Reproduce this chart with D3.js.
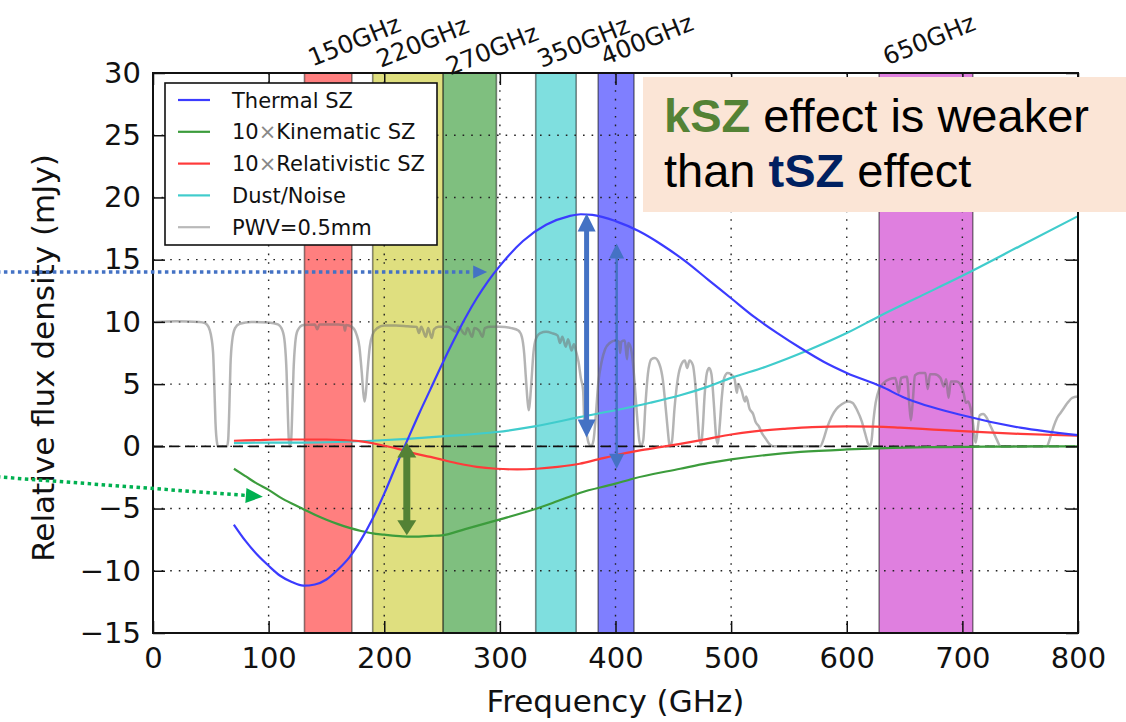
<!DOCTYPE html>
<html><head><meta charset="utf-8">
<script src="https://cdn.jsdelivr.net/npm/d3@7"></script>
<style>body{margin:0;background:#fff}</style>
</head><body><svg id="c" width="1126" height="722"></svg>
<script>
// ---------------- DATA ----------------
const xTicks = [0,100,200,300,400,500,600,700,800];
const yTicks = [-15,-10,-5,0,5,10,15,20,25,30];

const bandNames  = ["150GHz","220GHz","270GHz","350GHz","400GHz","650GHz"];
const bandLo     = [131,190,251,331,385,628];
const bandHi     = [172,251,297,366,416,709];
const bandLabelFreq = [138,197,257,336,391,635];
const bandLabelVal  = [30.5,30.4,29.8,30.4,30.6,30.6];

const seriesNames = ["Thermal SZ","10×Kinematic SZ","10×Relativistic SZ","Dust/Noise","PWV=0.5mm"];

const tszFreq = [70,80,90,100,110,120,130,140,150,160,170,180,190,200,210,220,230,240,250,260,270,280,290,300,320,340,360,370,380,400,420,440,460,480,500,520,540,560,580,600,630,650,700,750,800];
const tszVal  = [-6.3,-7.6,-8.7,-9.6,-10.4,-10.9,-11.2,-11.1,-10.7,-9.9,-8.9,-7.5,-5.8,-3.8,-1.6,0.5,2.6,4.6,6.6,8.5,10.3,11.9,13.3,14.5,16.5,17.8,18.5,18.65,18.6,18.1,17.3,16.2,14.9,13.4,11.9,10.4,9.1,7.9,6.8,5.9,4.8,3.9,2.5,1.5,0.9];

const kszFreq = [70,80,90,100,110,120,130,140,150,160,170,180,190,200,210,220,230,240,250,270,297,332,350,369,400,415,456,480,500,530,560,600,640,680,720,760,800];
const kszVal  = [-1.8,-2.4,-3.0,-3.5,-4.1,-4.6,-5.05,-5.5,-5.9,-6.25,-6.55,-6.8,-7.0,-7.1,-7.2,-7.25,-7.25,-7.2,-7.15,-6.65,-5.95,-5.0,-4.4,-3.75,-3.0,-2.6,-1.8,-1.35,-1.05,-0.7,-0.45,-0.25,-0.12,-0.06,-0.03,-0.01,0];

const rszFreq = [70,90,110,130,150,165,180,190,200,212,225,240,251,265,280,297,315,332,350,369,385,401,420,440,456,480,500,520,545,570,600,625,646,675,704,750,800];
const rszVal  = [0.45,0.5,0.55,0.55,0.55,0.5,0.4,0.25,0.05,-0.2,-0.55,-0.85,-1.1,-1.4,-1.65,-1.8,-1.85,-1.8,-1.65,-1.4,-1.05,-0.7,-0.35,-0.05,0.2,0.6,0.95,1.2,1.4,1.55,1.6,1.58,1.5,1.35,1.2,1.0,0.85];

const dustFreq = [70,100,130,160,190,220,250,297,330,369,400,430,456,480,500,530,566,600,629,660,700,750,800];
const dustVal  = [0.25,0.3,0.3,0.35,0.45,0.6,0.8,1.15,1.6,2.35,2.9,3.5,4.1,4.8,5.5,6.4,7.7,9.1,10.5,11.9,13.7,16.1,18.5];

const pwvFreq = [2,20,40,45,48,50,52,53,54,55.5,56,64,65,66,67,68.5,71,75,85,100,108,112,114,115.5,116.5,117.5,118.5,119.5,120.5,121.5,123,125,130,140,142,144,160,165,166,167,172,176,178.5,180.5,182,183,184,185.5,187.5,190,194,200,210,220,228,230,232,236,238,241,243,247,255,262,264,270,272,276,278,282,285,287,292,300,310,316,319,321,322.5,324,325,326,327.5,329,331,335,340,345,350,352,354,357,359,362,364,366,368,370,372,373,375,377,379,381,383,385,388,391,395,400,403,404,405,408,410,411,413,415,417,419,420.5,422,424,426,428,431,434,438,441,443,445,446.5,447.5,449,451,454,457,460,462,464,467,469,471,472.5,474,475.5,477,479,481,483,485,487,488.5,490,492,494,497,500,503,505,506,509,512,513,516,519,521,524,527,530,533,536,577,580,583,587,591,596,601,605,609,613,616,618.5,620,621.5,623,625,628,632,637,642,645,647,652,654,655.5,657,659,663,668,670,672,676,681,684,686,688,690,695,698,701,703,705,707,709,710.5,711.5,713,715,718,721,724,727,730,733,773,776,779,782,785,788,791,795,800];
const pwvVal  = [10.0,10.05,10.0,9.9,9.6,9.0,7.5,5,2,0.2,0,0,0.5,3,6.5,8.5,9.5,9.85,10.0,9.95,9.8,9.3,8.3,6,3,0.5,0,0.5,3,6,8.3,9.3,9.75,9.8,9.4,9.8,9.8,9.75,9.3,9.75,9.6,9.0,8.0,6.0,4.2,3.6,4.2,6.0,8.0,9.0,9.5,9.7,9.7,9.65,9.6,9.1,9.6,8.8,9.5,8.7,9.4,9.6,9.6,9.2,9.6,9.0,9.5,8.8,9.5,9.3,8.8,9.5,9.6,9.6,9.5,9.3,8.8,7.5,5.5,3.6,2.9,3.6,5.5,7.5,8.6,9.1,9.2,9.1,8.9,8.3,8.8,8.0,8.6,7.7,8.2,7.6,6.8,5.5,4.5,2.0,1.0,0.2,0,0.5,2.5,5.0,6.8,7.8,8.3,8.5,8.4,7.5,8.4,8.5,7.0,8.3,8.0,6.8,4.5,2.0,0.5,0,0.5,3.5,5.8,7.0,7.1,6.6,5.3,3.5,1.5,0.2,0,0.5,3,5.5,6.6,6.9,6.3,6.9,6.5,5.0,2.5,0.6,0.2,1.5,4,5.9,6.3,5.8,3.5,0.8,0.2,1.5,4.0,5.5,5.9,5.8,5.4,4.3,5.0,4.5,3.6,4.0,3.0,2.6,2.0,1.6,1.0,0.6,0.2,0,0,0.6,1.5,2.4,3.0,3.4,3.6,3.5,2.9,2.0,1.0,0.2,0,0.5,2.0,3.5,4.6,5.1,5.4,5.5,4.3,5.5,5.6,3.5,2.1,3.5,5.7,5.9,5.9,4.6,5.8,5.8,5.5,4.8,5.4,3.9,5.2,5.2,5.0,4.3,3.5,3.6,3.1,2.0,0.8,0.3,1.2,2.5,2.6,2.3,1.7,1.1,0.5,0,0,0.7,1.6,2.3,2.7,3.1,3.5,3.9,4.0];

// annotation arrows in data units
const arrowTszFreq = 375, arrowTszTop = 18.7, arrowTszBottom = 0.7;
const arrowThinFreq = 401, arrowThinTop = 16.3, arrowThinBottom = -1.8;
const arrowKszFreq = 219.5, arrowKszTop = 0.3, arrowKszBottom = -7.15;
const pointerTsz = {fromF:-135, fromV:14.0, toF:289, toV:14.0};
const pointerKsz = {fromF:-135, fromV:-2.45, toF:95, toV:-4.05};

// ---------------- CHART ----------------
const svg = d3.select("#c");
const L=153, R=1078, T=73, B=633;
const x = d3.scaleLinear().domain([0,800]).range([L,R]);
const y = d3.scaleLinear().domain([-15,30]).range([B,T]);
const FONT = "'DejaVu Sans', Verdana, sans-serif";

svg.append("rect").attr("width",1126).attr("height",722).attr("fill","#fff");
svg.append("defs").append("clipPath").attr("id","clip")
  .append("rect").attr("x",L).attr("y",T).attr("width",R-L).attr("height",B-T);

const bandColors = ["#ff7f7f","#dfdf7f","#7fbf7f","#7fdfdf","#7f7fff","#df7fdf"];
const gBands = svg.append("g");
bandNames.forEach((n,i)=>{
  gBands.append("rect")
    .attr("x",x(bandLo[i])).attr("y",T)
    .attr("width",x(bandHi[i])-x(bandLo[i])).attr("height",B-T)
    .attr("fill",bandColors[i])
    .attr("stroke","rgba(0,0,0,0.45)").attr("stroke-width",1.6);
});

// grid
const gGrid = svg.append("g").attr("stroke","#222").attr("stroke-width",1.4)
  .attr("stroke-dasharray","1.6,7");
xTicks.forEach(t=>gGrid.append("line").attr("x1",x(t)).attr("x2",x(t)).attr("y1",T).attr("y2",B));
yTicks.forEach(t=>gGrid.append("line").attr("y1",y(t)).attr("y2",y(t)).attr("x1",L).attr("x2",R));

const plot = svg.append("g").attr("clip-path","url(#clip)");
const line = d3.line().curve(d3.curveMonotoneX).x(d=>x(d[0])).y(d=>y(d[1]));
const zip = (a,b)=>a.map((v,i)=>[v,b[i]]);

// PWV
plot.append("path").attr("d",line(zip(pwvFreq,pwvVal)))
  .attr("fill","none").attr("stroke","#707070").attr("stroke-opacity",0.52).attr("stroke-width",2.5);

// zero line
plot.append("line").attr("x1",x(0)).attr("x2",x(800)).attr("y1",y(0)).attr("y2",y(0))
  .attr("stroke","#111").attr("stroke-width",1.8).attr("stroke-dasharray","10,6");

const colors = ["#3b3bff","#3c9c3c","#ff3a3a","#40cccc","#b9b9b9"];
const seriesData = [zip(tszFreq,tszVal), zip(kszFreq,kszVal), zip(rszFreq,rszVal), zip(dustFreq,dustVal)];
[3,2,1,0].forEach(i=>{
  plot.append("path").attr("d",line(seriesData[i]))
    .attr("fill","none").attr("stroke",colors[i]).attr("stroke-width",2.2);
});

// axes
const tickLen = 12;
svg.append("g").attr("transform",`translate(0,${B})`)
  .call(d3.axisBottom(x).tickValues(xTicks).tickSize(-tickLen).tickPadding(14))
  .call(g=>{g.select(".domain").remove(); g.selectAll("text").attr("font-size",29).attr("font-family",FONT).attr("fill","#111");});
svg.append("g").attr("transform",`translate(0,${T})`)
  .call(d3.axisTop(x).tickValues(xTicks).tickSize(-tickLen).tickFormat(""))
  .call(g=>g.select(".domain").remove());
svg.append("g").attr("transform",`translate(${L},0)`)
  .call(d3.axisLeft(y).tickValues(yTicks).tickSize(-tickLen).tickPadding(12))
  .call(g=>{g.select(".domain").remove(); g.selectAll("text").attr("font-size",29).attr("font-family",FONT).attr("fill","#111");});
svg.append("g").attr("transform",`translate(${R},0)`)
  .call(d3.axisRight(y).tickValues(yTicks).tickSize(-tickLen).tickFormat(""))
  .call(g=>g.select(".domain").remove());
svg.selectAll(".tick line").attr("stroke","#111").attr("stroke-width",1.5);
svg.append("rect").attr("x",L).attr("y",T).attr("width",R-L).attr("height",B-T)
  .attr("fill","none").attr("stroke","#111").attr("stroke-width",2);

// axis labels
svg.append("text").attr("x",(L+R)/2).attr("y",712).attr("text-anchor","middle")
  .attr("font-family",FONT).attr("font-size",31).attr("fill","#111").text("Frequency (GHz)");
svg.append("text").attr("transform",`translate(54,358) rotate(-90)`).attr("text-anchor","middle")
  .attr("font-family",FONT).attr("font-size",31).attr("fill","#111").text("Relative flux density (mJy)");

// band labels
bandNames.forEach((n,i)=>{
  svg.append("text")
    .attr("transform",`translate(${x(bandLabelFreq[i])},${y(bandLabelVal[i])}) rotate(-22)`)
    .attr("font-family",FONT).attr("font-size",24.5).attr("fill","#111").text(n);
});

// legend
const lg = svg.append("g");
lg.append("rect").attr("x",165).attr("y",83).attr("width",272).attr("height",162)
  .attr("fill","#fff").attr("stroke","#111").attr("stroke-width",1.6);
seriesNames.forEach((n,i)=>{
  const yy = 100 + i*31.8;
  lg.append("line").attr("x1",178).attr("x2",210).attr("y1",yy).attr("y2",yy)
    .attr("stroke",colors[i]).attr("stroke-width",2.2);
  const t = lg.append("text").attr("x",232).attr("y",yy+7.5)
    .attr("font-family",FONT).attr("font-size",21).attr("fill","#111");
  const parts = n.split("×");
  if(parts.length>1){
    t.append("tspan").text(parts[0]);
    t.append("tspan").attr("fill","#888").text("×");
    t.append("tspan").text(parts[1]);
  } else t.text(n);
});

// annotation box
svg.append("rect").attr("x",643).attr("y",77).attr("width",483).attr("height",135).attr("fill","#fbe5d6");
const AF = "'Liberation Sans', Arial, sans-serif";
const t1 = svg.append("text").attr("x",664).attr("y",132).attr("font-family",AF).attr("font-size",47).attr("fill","#000");
t1.append("tspan").attr("font-weight","bold").attr("fill","#548235").text("kSZ");
t1.append("tspan").text(" effect is weaker");
const t2 = svg.append("text").attr("x",664).attr("y",187).attr("font-family",AF).attr("font-size",47).attr("fill","#000");
t2.append("tspan").text("than ");
t2.append("tspan").attr("font-weight","bold").attr("fill","#002060").text("tSZ");
t2.append("tspan").text(" effect");

// arrows
function head(g,tx,ty,fx,fy,len,hw,color){
  const dx=tx-fx, dy=ty-fy, d=Math.hypot(dx,dy), ux=dx/d, uy=dy/d, nx=-uy, ny=ux;
  const bx=tx-ux*len, by=ty-uy*len;
  g.append("path").attr("d",`M${tx},${ty}L${bx+nx*hw},${by+ny*hw}L${bx-nx*hw},${by-ny*hw}Z`).attr("fill",color);
  return [bx,by];
}
function dblArrow(f,top,bot,color,w,len,hw){
  const g = svg.append("g");
  const X=x(f), Y1=y(top), Y2=y(bot);
  g.append("line").attr("x1",X).attr("x2",X).attr("y1",Y1+len-1).attr("y2",Y2-len+1)
    .attr("stroke",color).attr("stroke-width",w);
  head(g,X,Y1,X,Y2,len,hw,color);
  head(g,X,Y2,X,Y1,len,hw,color);
}
dblArrow(arrowTszFreq,arrowTszTop,arrowTszBottom,"#4472c4",5,18,9);
dblArrow(arrowThinFreq,arrowThinTop,arrowThinBottom,"#4472c4",2.5,15,7.5);
dblArrow(arrowKszFreq,arrowKszTop,arrowKszBottom,"#548235",7,15,9.5);

function pointer(p,color,len,hw){
  const g = svg.append("g");
  const fx=x(p.fromF), fy=y(p.fromV), tx=x(p.toF), ty=y(p.toV);
  const [bx,by] = head(g,tx,ty,fx,fy,len,hw,color);
  g.append("line").attr("x1",fx).attr("y1",fy).attr("x2",bx).attr("y2",by)
    .attr("stroke",color).attr("stroke-width",3.5).attr("stroke-dasharray","3.5,3.5");
}
pointer(pointerTsz,"#4472c4",14,6.5);
pointer(pointerKsz,"#00b050",17,7.5);
</script></body></html>
